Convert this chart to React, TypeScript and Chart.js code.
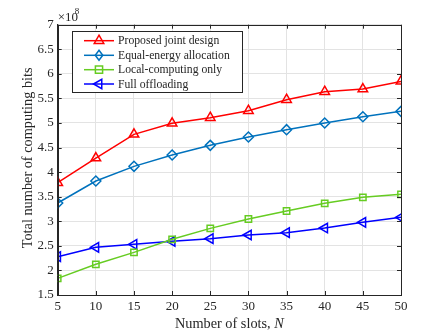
import React, { useEffect, useRef } from "react";
import { Chart, registerables } from "chart.js";

Chart.register(...registerables);

const slots = [5, 10, 15, 20, 25, 30, 35, 40, 45, 50];
const proposed = [3.785, 4.287, 4.769, 4.993, 5.108, 5.25, 5.474, 5.637, 5.691, 5.847];
const equalEnergy = [3.372, 3.819, 4.118, 4.348, 4.545, 4.714, 4.864, 5.0, 5.128, 5.237];
const localOnly = [1.839, 2.124, 2.368, 2.633, 2.856, 3.046, 3.209, 3.365, 3.487, 3.548];
const fullOffload = [2.28, 2.47, 2.531, 2.592, 2.646, 2.721, 2.768, 2.863, 2.979, 3.08];
const seriesNames = ["Proposed joint design", "Equal-energy allocation", "Local-computing only", "Full offloading"];
const seriesColors = ["#FF0000", "#0072BD", "#66CC22", "#0000FF"];
const xTitle = "Number of slots, ";
const yTitle = "Total number of computing bits";

const FONT = "'Liberation Serif', 'Times New Roman', serif";
const AXIS = "#262626";

function drawMarker(ctx: CanvasRenderingContext2D, style: string, rot: number, r: number, x: number, y: number) {
  ctx.save();
  ctx.translate(x, y);
  ctx.rotate((rot * Math.PI) / 180);
  ctx.beginPath();
  if (style === "triangle") {
    ctx.moveTo(0, -r);
    ctx.lineTo(r * Math.sin(Math.PI / 3), r / 2);
    ctx.lineTo(-r * Math.sin(Math.PI / 3), r / 2);
    ctx.closePath();
  } else if (style === "rectRot") {
    ctx.moveTo(0, -r); ctx.lineTo(r * 0.75, 0); ctx.lineTo(0, r); ctx.lineTo(-r * 0.75, 0); ctx.closePath();
  } else {
    const s = r * 0.8;
    ctx.rect(-s, -s, 2 * s, 2 * s);
  }
  ctx.stroke();
  ctx.restore();
}

const overlay = {
  id: "overlay",
  afterDraw(chart: any) {
    const { ctx, chartArea: a, scales } = chart;
    const x = scales.x, y = scales.y;
    ctx.save();
    ctx.strokeStyle = AXIS;
    ctx.lineWidth = 1;
    ctx.beginPath();
    x.ticks.forEach((t: any) => {
      const px = Math.round(x.getPixelForValue(t.value)) + 0.5;
      ctx.moveTo(px, a.bottom); ctx.lineTo(px, a.bottom - 4);
      ctx.moveTo(px, a.top); ctx.lineTo(px, a.top + 4);
    });
    y.ticks.forEach((t: any) => {
      const py = Math.round(y.getPixelForValue(t.value)) + 0.5;
      ctx.moveTo(a.left, py); ctx.lineTo(a.left + 4, py);
      ctx.moveTo(a.right, py); ctx.lineTo(a.right - 4, py);
    });
    ctx.stroke();
    ctx.strokeRect(Math.round(a.left) + 0.5, Math.round(a.top) + 0.5, Math.round(a.right - a.left), Math.round(a.bottom - a.top));
    ctx.fillStyle = AXIS;
    ctx.font = `13px ${FONT}`;
    ctx.textBaseline = "alphabetic";
    ctx.textAlign = "left";
    ctx.fillText("\u00d710", a.left, 21);
    ctx.font = `9px ${FONT}`;
    ctx.fillText("8", a.left + 17, 14);
    ctx.font = `14.3px ${FONT}`;
    ctx.textBaseline = "middle";
    const w1 = ctx.measureText(xTitle).width;
    ctx.font = `italic 14.3px ${FONT}`;
    const w2 = ctx.measureText("N").width;
    const cx = (a.left + a.right) / 2;
    const startX = cx - (w1 + w2) / 2;
    ctx.textAlign = "left";
    ctx.font = `14.3px ${FONT}`;
    ctx.fillText(xTitle, startX, 324);
    ctx.font = `italic 14.3px ${FONT}`;
    ctx.fillText("N", startX + w1, 324);
    ctx.save();
    ctx.translate(28, (a.top + a.bottom) / 2 - 2);
    ctx.rotate(-Math.PI / 2);
    ctx.textAlign = "center";
    ctx.font = `14.3px ${FONT}`;
    ctx.fillText(yTitle, 0, 0);
    ctx.restore();
    const lx = 72, ly = 31, lw = 170, lh = 61;
    ctx.fillStyle = "#FFFFFF";
    ctx.fillRect(lx, ly, lw, lh);
    ctx.strokeStyle = AXIS;
    ctx.lineWidth = 1;
    ctx.strokeRect(lx + 0.5, ly + 0.5, lw, lh);
    const rows = [40.7, 55.3, 69.7, 84];
    chart.data.datasets.forEach((ds: any, i: number) => {
      const ry = rows[i];
      ctx.strokeStyle = ds.borderColor;
      ctx.lineWidth = 1.5;
      ctx.beginPath();
      ctx.moveTo(84, ry); ctx.lineTo(114, ry);
      ctx.stroke();
      drawMarker(ctx, ds.pointStyle, ds.pointRotation || 0, ds.pointRadius, 99, ry);
      ctx.fillStyle = AXIS;
      ctx.font = `11.7px ${FONT}`;
      ctx.textAlign = "left";
      ctx.textBaseline = "middle";
      ctx.fillText(ds.label, 118, ry + 0.5);
    });
    ctx.restore();
  },
};

export default function App() {
  const ref = useRef<HTMLCanvasElement | null>(null);
  useEffect(() => {
    if (!ref.current) return;
    const mk = (i: number, data: number[], style: string, rot = 0, r = 5) => ({
      label: seriesNames[i],
      data: slots.map((s, k) => ({ x: s, y: data[k] })),
      borderColor: seriesColors[i],
      backgroundColor: "rgba(0,0,0,0)",
      pointBackgroundColor: "rgba(0,0,0,0)",
      pointBorderColor: seriesColors[i],
      borderWidth: 1.5,
      pointBorderWidth: 1.5,
      pointStyle: style,
      pointRotation: rot,
      pointRadius: r,
      tension: 0,
    });
    const chart = new Chart(ref.current, {
      type: "line",
      data: {
        datasets: [
          mk(0, proposed, "triangle", 0, 5.5),
          mk(1, equalEnergy, "rectRot", 0, 5),
          mk(2, localOnly, "rect", 0, 4.5),
          mk(3, fullOffload, "triangle", -90, 5.5),
        ] as any,
      },
      options: {
        animation: false,
        responsive: false,
        maintainAspectRatio: false,
        layout: { padding: { left: 0, right: 42, top: 24.7, bottom: 0 } },
        plugins: { legend: { display: false }, tooltip: { enabled: false } },
        scales: {
          x: {
            type: "linear",
            min: 5,
            max: 50,
            ticks: { stepSize: 5, color: AXIS, font: { family: FONT, size: 13 }, padding: 4, maxRotation: 0 },
            grid: { color: "#E3E3E3", drawTicks: false },
            border: { color: AXIS },
            afterFit: (s: any) => { s.height = 37; },
          },
          y: {
            min: 1.5,
            max: 7,
            ticks: {
              stepSize: 0.5,
              color: AXIS,
              font: { family: FONT, size: 13 },
              padding: 4,
              callback: (v: any) => String(Number(v)),
            },
            grid: { color: "#E3E3E3", drawTicks: false },
            border: { color: AXIS },
            afterFit: (s: any) => { s.width = 57.7; },
          },
        },
      } as any,
      plugins: [overlay],
    });
    return () => chart.destroy();
  }, []);
  return (
    <div style={{ position: "fixed", left: 0, top: 0, width: 443, height: 332, background: "#fff" }}>
      <canvas ref={ref} width={443} height={332} style={{ width: 443, height: 332 }} />
    </div>
  );
}
